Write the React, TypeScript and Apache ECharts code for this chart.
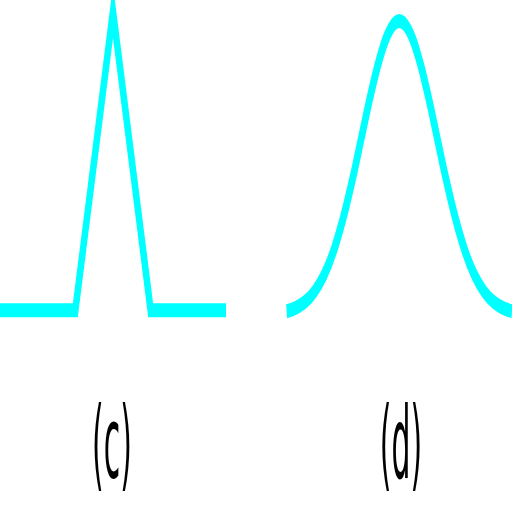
import React, { useEffect, useRef } from "react";
import * as echarts from "echarts";

// Panel (c): triangular pulse
const triangleX = [-3, -1, 0, 1, 3];
const triangleY = [0, 0, 1, 0, 0];

// Panel (d): bell-shaped pulse
const bellX = [
  -3, -2.75, -2.5, -2.25, -2, -1.75, -1.5, -1.25, -1, -0.75, -0.5, -0.25, 0,
  0.25, 0.5, 0.75, 1, 1.25, 1.5, 1.75, 2, 2.25, 2.5, 2.75, 3,
];
const bellY = [
  0.011, 0.023, 0.044, 0.08, 0.135, 0.216, 0.325, 0.458, 0.607, 0.755, 0.882,
  0.969, 1, 0.969, 0.882, 0.755, 0.607, 0.458, 0.325, 0.216, 0.135, 0.08,
  0.044, 0.023, 0.011,
];

const panelLabels = ["(c)", "(d)"];

const SX = 0.46;
const INNER_W = 512 / SX;

export default function App() {
  const ref = useRef<HTMLDivElement>(null);
  useEffect(() => {
    if (!ref.current) return;
    const chart = echarts.init(ref.current, null, { renderer: "svg" });
    const lineStyle = {
      color: "#00ffff",
      width: 14,
      join: "miter" as const,
      miterLimit: 10,
      cap: "butt" as const,
    };
    chart.setOption({
      animation: false,
      backgroundColor: "#ffffff",
      grid: [
        { left: 0, width: 226 / SX, top: 11.7, height: 298.6 },
        { left: 286.6 / SX, width: 226 / SX, top: 21, height: 293.5 },
      ],
      xAxis: [
        { type: "value", gridIndex: 0, min: -3, max: 3, show: false },
        { type: "value", gridIndex: 1, min: -3, max: 3, show: false },
      ],
      yAxis: [
        { type: "value", gridIndex: 0, min: 0, max: 1, show: false },
        { type: "value", gridIndex: 1, min: 0, max: 1, show: false },
      ],
      series: [
        {
          type: "line",
          xAxisIndex: 0,
          yAxisIndex: 0,
          data: triangleX.map((x, i) => [x, triangleY[i]]),
          showSymbol: false,
          symbol: "none",
          clip: false,
          lineStyle,
        },
        {
          type: "line",
          xAxisIndex: 1,
          yAxisIndex: 1,
          data: bellX.map((x, i) => [x, bellY[i]]),
          showSymbol: false,
          symbol: "none",
          smooth: 0.4,
          clip: false,
          lineStyle,
        },
      ],
      graphic: [
        {
          type: "text",
          x: 112 / SX,
          y: 443,
          scaleX: 0.65,
          style: {
            text: panelLabels[0],
            fontFamily: "DejaVu Sans",
            fontSize: 100,
            fill: "#000000",
            textAlign: "center",
            textVerticalAlign: "middle",
          },
        },
        {
          type: "text",
          x: 401 / SX,
          y: 443,
          scaleX: 0.65,
          style: {
            text: panelLabels[1],
            fontFamily: "DejaVu Sans",
            fontSize: 100,
            fill: "#000000",
            textAlign: "center",
            textVerticalAlign: "middle",
          },
        },
      ],
    });
    return () => chart.dispose();
  }, []);
  return (
    <div
      style={{
        position: "fixed",
        left: 0,
        top: 0,
        width: 512,
        height: 512,
        overflow: "hidden",
        background: "#ffffff",
      }}
    >
      <div
        ref={ref}
        style={{
          width: INNER_W,
          height: 512,
          transform: `scaleX(${SX})`,
          transformOrigin: "0 0",
        }}
      />
    </div>
  );
}
